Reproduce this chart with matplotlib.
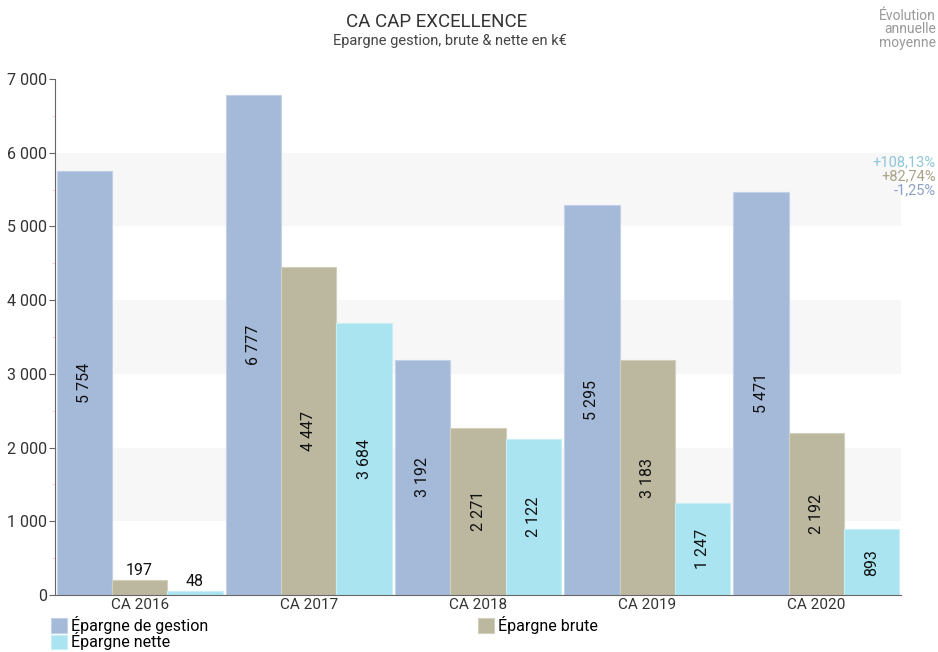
import matplotlib
matplotlib.use("Agg")
import matplotlib.pyplot as plt
from matplotlib.ticker import MultipleLocator, FuncFormatter
import numpy as np

plt.rcParams['font.family'] = ['Roboto', 'DejaVu Sans']

categories = ["CA 2016", "CA 2017", "CA 2018", "CA 2019", "CA 2020"]
series_names = ["Épargne de gestion", "Épargne brute", "Épargne nette"]
gestion = [5754, 6777, 3192, 5295, 5471]
brute = [197, 4447, 2271, 3183, 2192]
nette = [48, 3684, 2122, 1247, 893]
evolution = ["+108,13%", "+82,74%", "-1,25%"]
evolution_colors = ["#8fc6d8", "#a8a287", "#8d9fc6"]
colors = ["#a5b9d9", "#bcb89f", "#aae4f1"]
edge_colors = ["#c3d1e8", "#d2cfbd", "#c8eef6"]

def fmt(v):
    return f"{int(v):,}".replace(",", " ")

fig = plt.figure(figsize=(9.38, 6.52), dpi=100)
ax = fig.add_axes([55/938, 1-595/652, 846/938, (595-79)/652])

x = np.arange(len(categories))
w = 0.327
series = [gestion, brute, nette]
ax.set_xlim(-0.5, len(categories) - 0.5)
ax.set_ylim(0, 7000)

# alternating bands
for lo in (1000, 3000, 5000):
    ax.axhspan(lo, lo + 1000, color="#f7f7f7", zorder=0, lw=0)

handles = []
for i, (vals, c, ec) in enumerate(zip(series, colors, edge_colors)):
    xs = x + (i - 1) * w
    b = ax.bar(xs, vals, width=w, color=c, edgecolor=ec, linewidth=0.8, zorder=2,
               label=series_names[i])
    handles.append(b)
    for xi, v in zip(xs, vals):
        if v > 600:
            ax.text(xi, v / 2, fmt(v), rotation=90, ha="center", va="center",
                    fontsize=11.5, color="#111111", zorder=3)
        else:
            ax.text(xi, v + 40, fmt(v), ha="center", va="bottom",
                    fontsize=11.5, color="#111111", zorder=3)

ax.set_xticks(x)
ax.set_xticklabels(categories, fontsize=11, color="#333333")
ax.tick_params(axis="x", length=0, pad=2)
ax.yaxis.set_major_locator(MultipleLocator(1000))
ax.yaxis.set_minor_locator(MultipleLocator(500))
ax.yaxis.set_major_formatter(FuncFormatter(lambda v, p: fmt(v)))
ax.tick_params(axis="y", which="major", length=4, width=0.8, color="#666666",
               labelsize=11.5, labelcolor="#333333", pad=2)
ax.tick_params(axis="y", which="minor", length=2, width=0.6, color="#f0c8c8")
for s in ("top", "right"):
    ax.spines[s].set_visible(False)
ax.spines["left"].set_color("#666666")
ax.spines["bottom"].set_color("#666666")
ax.set_facecolor("white")

fig.text(437/938, 1-22/652, "CA CAP EXCELLENCE", ha="center", va="center",
         fontsize=13.5, color="#333333")
fig.text(450/938, 1-41/652, "Epargne gestion, brute & nette en k€", ha="center",
         va="center", fontsize=10.5, color="#444444")
fig.text(936/938, 1-9/652, "Évolution\nannuelle\nmoyenne", ha="right", va="top",
         fontsize=10, color="#999999", linespacing=0.95)

for k, (t, c) in enumerate(zip(evolution, evolution_colors)):
    fig.text(936/938, 1-(162 + 14*k)/652, t, ha="right", va="center",
             fontsize=10.5, color=c)

order = [0, 2, 1]
leg = fig.legend([handles[k] for k in order], [series_names[k] for k in order],
                 loc="upper left", bbox_to_anchor=(51/938, 1-616/652),
                 ncol=2, frameon=False, fontsize=11.5, handlelength=1.0,
                 handleheight=1.0, handletextpad=0.25, columnspacing=16.9,
                 labelspacing=-0.1, borderpad=0, borderaxespad=0)

fig.savefig("out.png", dpi=100)
